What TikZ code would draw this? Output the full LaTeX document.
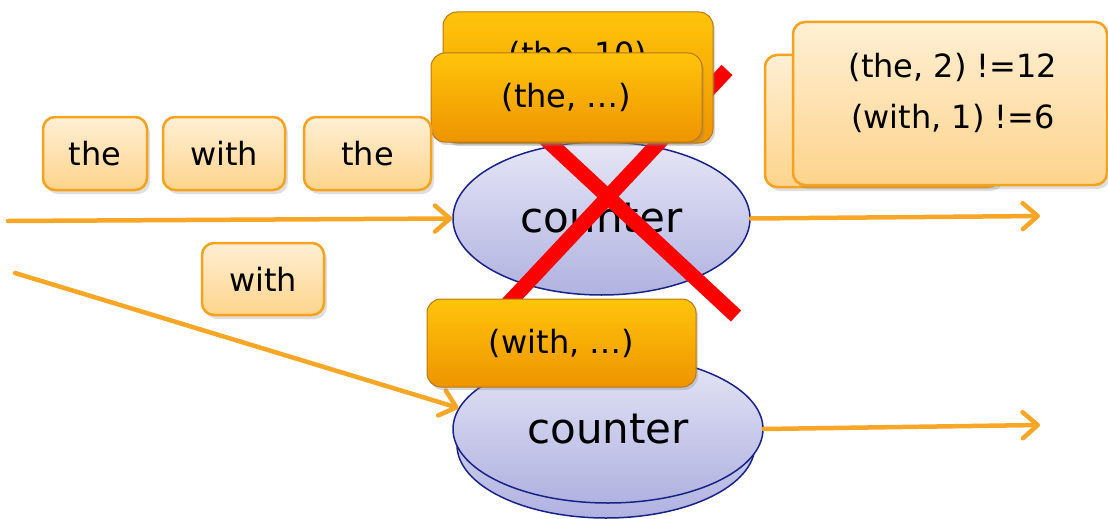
\documentclass[tikz,border=0pt]{standalone}
\usepackage{fontspec}
\setmainfont{DejaVu Sans}
\usetikzlibrary{arrows.meta,shapes.geometric,shadows}

\definecolor{flowOrange}{RGB}{247,166,38}
\definecolor{wordTop}{RGB}{255,239,212}
\definecolor{wordBot}{RGB}{253,212,140}
\definecolor{wordLine}{RGB}{245,162,30}
\definecolor{pairTop}{RGB}{255,196,10}
\definecolor{pairBot}{RGB}{238,148,0}
\definecolor{pairLine}{RGB}{185,120,20}
\definecolor{ellTop}{RGB}{230,230,246}
\definecolor{ellBot}{RGB}{176,178,224}
\definecolor{ellLine}{RGB}{25,35,135}

\tikzset{
  wordbox/.style={draw=wordLine, line width=2.5pt, rounded corners=12pt,
    top color=wordTop, bottom color=wordBot, inner sep=0pt,
    drop shadow={opacity=0.25, shadow xshift=3pt, shadow yshift=-4pt},
    font=\fontsize{32}{38}\selectfont},
  pairbox/.style={draw=pairLine, line width=1pt, rounded corners=14pt,
    top color=pairTop, bottom color=pairBot, inner sep=0pt,
    drop shadow={opacity=0.3, shadow xshift=2pt, shadow yshift=-3pt},
    font=\fontsize{32}{38}\selectfont},
  counterell/.style={ellipse, draw=ellLine, line width=1.5pt,
    top color=ellTop, bottom color=ellBot, inner sep=0pt,
    font=\fontsize{42}{48}\selectfont},
  flow/.style={draw=flowOrange, line width=4.5pt, line cap=round,
    -{Straight Barb[length=15pt,width=26pt,round]}},
  cross/.style={draw=red, line width=15pt},
}

\begin{document}
\begin{tikzpicture}[x=1pt,y=1pt,yscale=-1,xscale=1]
\useasboundingbox (0,0) rectangle (1108,519);

% Counters
\node[counterell, minimum width=298pt, minimum height=146pt] (c2back) at (606,445) {};
\node[counterell, minimum width=310pt, minimum height=148pt] (c2) at (608,429) {counter};
\node[counterell, minimum width=297pt, minimum height=153pt] (c1) at (601.5,218.5) {counter};

% Flows
\coordinate (src1) at (8,221);
\coordinate (src2) at (15,273);
\coordinate (sink1) at (1040,216);
\coordinate (sink2) at (1040,425);
\draw[flow] (src1) -- (c1.west);
\draw[flow] (c1.east) -- (sink1);
\draw[flow] (src2) -- (c2.172);
\draw[flow] (c2.east) -- (sink2);

% Red cross
\coordinate (xa) at (536,130);
\coordinate (xb) at (736,316);
\coordinate (xc) at (727,70);
\coordinate (xd) at (502,310);
\draw[cross] (xa) -- (xb);
\draw[cross] (xc) -- (xd);

% Pair boxes
\node[pairbox, minimum width=270pt, minimum height=131pt] (the10) at (578,77.5) {};
\node[font=\fontsize{32}{38}\selectfont] (the10txt) at (578,55) {(the, 10)};
\node[pairbox, minimum width=271pt, minimum height=89pt] (theDots) at (566.5,97.5) {(the, \dots)};
\node[pairbox, minimum width=269pt, minimum height=88pt] (withDots) at (561.5,343) {(with, \dots)};

% Result boxes
\node[wordbox, minimum width=235pt, minimum height=132pt] (resback) at (882.5,121) {};
\node[wordbox, minimum width=314pt, minimum height=163pt] (res) at (950,103.5) {};
\node[align=center, font=\fontsize{32}{51}\selectfont] (restxt) at (953,92.5) {(the, 2) !=12\\(with, 1) !=6};

% Words
\node[wordbox, minimum width=104pt, minimum height=73pt] (w1) at (95,153.5) {the};
\node[wordbox, minimum width=122pt, minimum height=73pt] (w2) at (224,153.5) {with};
\node[wordbox, minimum width=127pt, minimum height=73pt] (w3) at (367.5,153.5) {the};
\node[wordbox, minimum width=122pt, minimum height=72pt] (w4) at (263,279) {with};

\end{tikzpicture}
\end{document}
